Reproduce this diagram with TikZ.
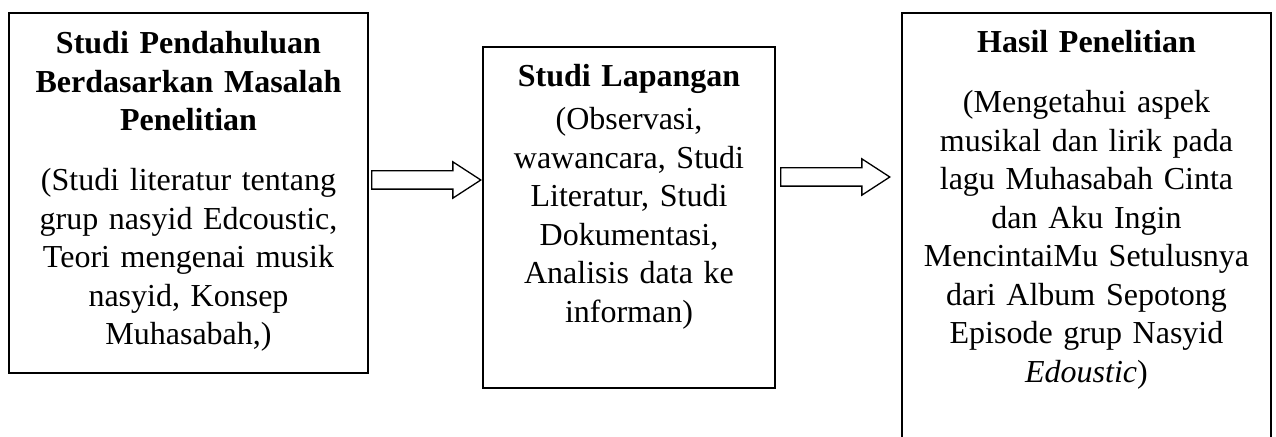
\documentclass[tikz,border=0pt]{standalone}
\usepackage{fontspec}
\setmainfont{Liberation Serif}
\usetikzlibrary{positioning,shapes.arrows}
\tikzset{
box/.style={
  draw, rectangle,
  line width=1pt,
  inner sep=0pt
},
boxtext/.style={align=center, inner sep=0pt, font=\fontsize{16}{19.25}\selectfont},
blockarrow/.style={
  single arrow, draw, line width=0.65pt,
  inner sep=4.25pt,
  single arrow head extend=4.5pt,
  single arrow tip angle=66,
  minimum height=54.5pt,
  anchor=tip
},
}

\begin{document}
\begin{tikzpicture}[x=0.5pt,y=-0.5pt]
            \useasboundingbox (0,0) rectangle (1276,437);
            \node (studi) [box, minimum width=179.5pt, minimum height=180pt] at (188.5,193) {};
            \node (lapangan) [box, minimum width=146pt, minimum height=170.7pt] at (629,217.3) {};
            \node (hasil) [box, minimum width=184.5pt, minimum height=223.5pt] at (1086.5,236.5) {};

            \node (studi-t) [boxtext, text width=172pt, below=9.5pt of studi.north] {
              {\bfseries Studi Pendahuluan\\ Berdasarkan Masalah\\ Penelitian}\\[10.75pt]
              (Studi literatur tentang\\ grup nasyid Edcoustic,\\ Teori mengenai musik\\ nasyid, Konsep\\ Muhasabah,)};
            \node (lapangan-t) [boxtext, text width=140pt, below=9.2pt of lapangan.north] {
              {\bfseries Studi Lapangan}\\[2.25pt]
              (Observasi,\\ wawancara, Studi\\ Literatur, Studi\\ Dokumentasi,\\ Analisis data ke\\ informan)};
            \node (hasil-t) [boxtext, text width=178pt, below=9pt of hasil.north] {
              {\bfseries Hasil Penelitian}\\[10.75pt]
              (Mengetahui aspek\\ musikal dan lirik pada\\ lagu Muhasabah Cinta\\ dan Aku Ingin\\ MencintaiMu Setulusnya\\ dari Album Sepotong\\ Episode grup Nasyid\\ \textit{Edoustic})};

            \coordinate (tip2) at (hasil.west |- 0,177);
            \node (arr1) [blockarrow] at (lapangan.west |- 0,180) {};
            \node (arr2) [blockarrow] at ([xshift=-5pt]tip2) {};
        \end{tikzpicture}
\end{document}
